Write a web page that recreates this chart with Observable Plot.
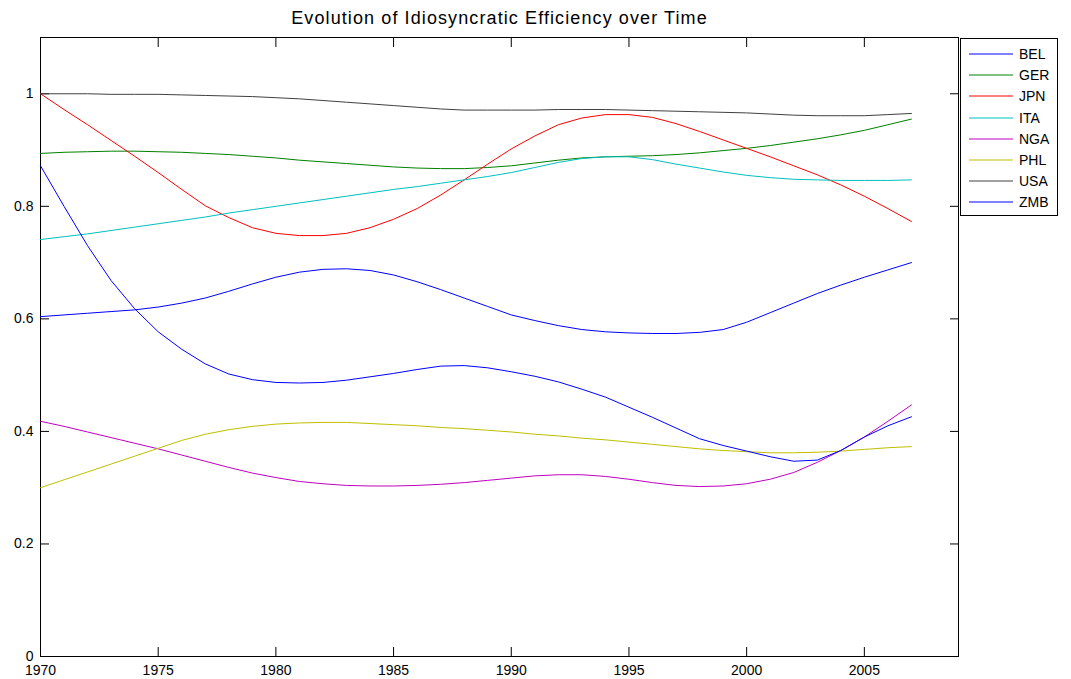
<!DOCTYPE html>
<html>
<head>
<meta charset="utf-8">
<script src="https://cdn.jsdelivr.net/npm/d3@7"></script>
<script src="https://cdn.jsdelivr.net/npm/@observablehq/plot@0.6"></script>
<style>
  html, body { margin: 0; padding: 0; background: #fff; }
  #wrap { position: relative; width: 1071px; height: 679px; font-family: "Liberation Sans", Arial, Helvetica, sans-serif; }
  #legend { position: absolute; left: 960px; top: 38px; width: 98px; height: 178px; border: 1px solid #000; background: #fff; box-sizing: border-box; }
  .row { position: absolute; left: 0; height: 20px; display: flex; align-items: center; }
  .row svg { margin-left: 8px; }
  .row span { margin-left: 6px; font-size: 14px; color: #000; }
  .title-text { letter-spacing: 1.1px; }
</style>
</head>
<body>
<div id="wrap"><div id="chart"></div><div id="legend"></div></div>
<script>
const title = "Evolution of Idiosyncratic Efficiency over Time";
const years = [1970,1971,1972,1973,1974,1975,1976,1977,1978,1979,1980,1981,1982,1983,1984,1985,1986,1987,1988,1989,1990,1991,1992,1993,1994,1995,1996,1997,1998,1999,2000,2001,2002,2003,2004,2005,2006,2007];
const countries = ["BEL","GER","JPN","ITA","NGA","PHL","USA","ZMB"];
const colors = ["#0000ff","#008000","#ff0000","#00bfbf","#bf00bf","#bfbf00","#404040","#0000ff"];
const xTicks = [1970,1975,1980,1985,1990,1995,2000,2005];
const yTicks = [0,0.2,0.4,0.6,0.8,1];

const BEL = [.604,.607,.610,.613,.616,.621,.628,.637,.649,.662,.674,.683,.688,.689,.686,.678,.666,.652,.637,.622,.607,.597,.588,.581,.577,.575,.574,.574,.576,.581,.594,.611,.628,.645,.660,.674,.687,.700];
const GER = [.894,.896,.897,.898,.898,.897,.896,.894,.892,.889,.886,.882,.879,.876,.873,.870,.868,.867,.867,.869,.872,.877,.882,.886,.888,.889,.890,.892,.895,.899,.903,.908,.914,.920,.927,.935,.945,.955];
const JPN = [1.000,.972,.945,.917,.889,.860,.830,.801,.780,.762,.752,.748,.748,.752,.762,.777,.796,.820,.847,.875,.902,.925,.945,.957,.963,.963,.958,.947,.933,.918,.903,.888,.872,.856,.838,.818,.796,.773];
const ITA = [.741,.746,.751,.757,.763,.769,.775,.781,.788,.794,.800,.806,.812,.818,.824,.830,.835,.841,.847,.853,.860,.869,.878,.885,.888,.888,.883,.875,.868,.861,.855,.851,.848,.847,.846,.846,.846,.847];
const NGA = [.418,.409,.399,.389,.379,.369,.358,.347,.336,.326,.318,.311,.307,.304,.303,.303,.304,.306,.309,.313,.317,.321,.323,.323,.320,.315,.309,.304,.302,.303,.307,.315,.327,.345,.366,.390,.418,.447];
const PHL = [.300,.314,.328,.342,.356,.370,.384,.395,.403,.409,.413,.415,.416,.416,.414,.412,.410,.407,.405,.402,.399,.395,.392,.388,.385,.381,.377,.373,.369,.366,.364,.362,.362,.363,.365,.368,.371,.373];
const USA = [1.000,1.000,1.000,.999,.999,.999,.998,.997,.996,.995,.993,.991,.988,.985,.982,.979,.976,.973,.971,.971,.971,.971,.972,.972,.972,.971,.970,.969,.968,.967,.966,.964,.962,.961,.961,.961,.963,.965];
const ZMB = [.872,.800,.730,.668,.618,.577,.546,.520,.502,.492,.487,.486,.487,.491,.497,.503,.510,.516,.517,.513,.506,.498,.488,.475,.461,.443,.425,.406,.387,.375,.365,.355,.347,.349,.366,.390,.410,.426];

const series = {BEL, GER, JPN, ITA, NGA, PHL, USA, ZMB};
const rows = [];
countries.forEach(c => series[c].forEach((v, i) => rows.push({country: c, year: years[i], value: v})));

const font = "Liberation Sans, Arial, Helvetica, sans-serif";
const chart = Plot.plot({
  width: 1071,
  height: 679,
  marginLeft: 40,
  marginRight: 113,
  marginTop: 37,
  marginBottom: 23,
  style: {fontFamily: font, fontSize: "14px", background: "#fff", color: "#000"},
  x: {domain: [1970, 2009], label: null},
  y: {domain: [0, 1.1], label: null},
  color: {domain: countries, range: colors},
  marks: [
    Plot.frame({stroke: "#000", strokeWidth: 1}),
    Plot.axisX({anchor: "bottom", ticks: xTicks, tickSize: -9, tickFormat: () => "", label: null}),
    Plot.axisX({anchor: "top", ticks: xTicks, tickSize: -9, tickFormat: () => "", label: null}),
    Plot.axisY({anchor: "left", ticks: yTicks, tickSize: -9, tickFormat: () => "", label: null}),
    Plot.axisY({anchor: "right", ticks: yTicks, tickSize: -9, tickFormat: () => "", label: null}),
    Plot.axisX({anchor: "bottom", ticks: xTicks, tickSize: 0, tickPadding: 9, tickFormat: d => String(d), label: null}),
    Plot.axisY({anchor: "left", ticks: yTicks, tickSize: 0, tickPadding: 7, tickFormat: d => String(d), label: null}),
    Plot.line(rows, {x: "year", y: "value", z: "country", stroke: "country", strokeWidth: 1}),
    Plot.text([title], {frameAnchor: "top", lineAnchor: "middle", dy: -19, fontSize: 18, fill: "#000", className: "title-text"})
  ]
});
document.getElementById("chart").appendChild(chart);

const legend = document.getElementById("legend");
countries.forEach((c, i) => {
  const row = document.createElement("div");
  row.className = "row";
  row.style.top = (5 + i * 21.2) + "px";
  row.innerHTML = `<svg width="44" height="4"><line x1="0" y1="2" x2="44" y2="2" stroke="${colors[i]}" stroke-width="1"/></svg><span>${c}</span>`;
  legend.appendChild(row);
});
</script>
</body>
</html>
